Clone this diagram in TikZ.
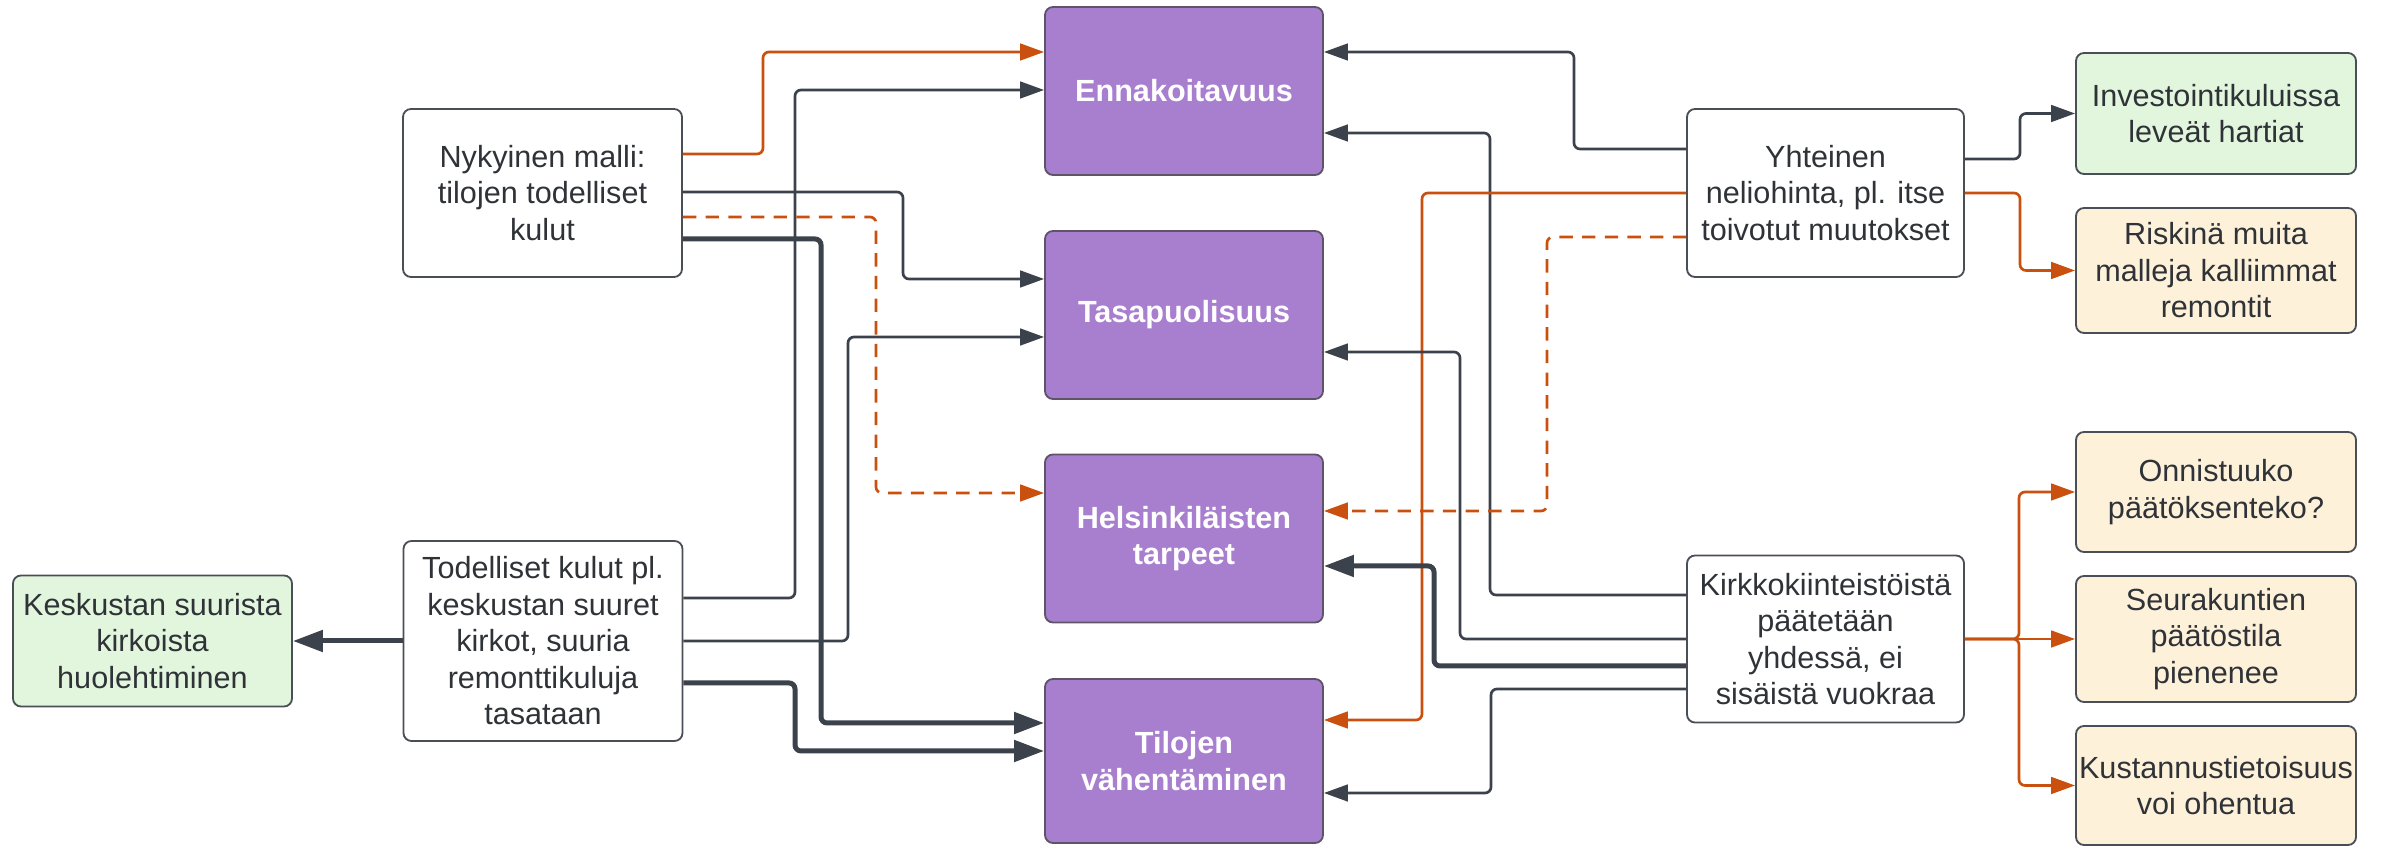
\documentclass[tikz,border=0pt]{standalone}
\usepackage{fontspec}
\setmainfont{Liberation Sans}
\usetikzlibrary{arrows.meta,calc}
\definecolor{dk}{HTML}{3B424B}
\definecolor{orn}{HTML}{C9500F}
\definecolor{pu}{HTML}{A87ECF}
\definecolor{puedge}{HTML}{5E5468}
\definecolor{gr}{HTML}{E2F6DE}
\definecolor{cr}{HTML}{FEF1DA}
\definecolor{txt}{HTML}{2F3338}
\definecolor{edge}{HTML}{4A4F57}
\begin{document}
\begin{tikzpicture}[x=0.3pt,y=-0.3pt,
  box/.style={draw=edge,line width=0.55pt,rounded corners=2.4pt,align=center,inner sep=0pt,
    text=txt,font=\fontsize{9.18pt}{10.95pt}\selectfont},
  wbox/.style={box,fill=white,minimum width=83.7pt,minimum height=50.4pt},
  pbox/.style={box,fill=pu,draw=puedge,text=white,font=\fontsize{9.18pt}{10.95pt}\selectfont\bfseries,
    minimum width=83.4pt,minimum height=50.4pt},
  gbox/.style={box,fill=gr,minimum width=84pt},
  cbox/.style={box,fill=cr,minimum width=84pt},
  da/.style={draw=dk,line width=0.8pt,rounded corners=1.8pt,-{Triangle[length=7.2pt,width=5pt]}},
  dat/.style={draw=dk,line width=1.5pt,rounded corners=1.8pt,-{Triangle[length=9pt,width=6.3pt]}},
  oa/.style={draw=orn,line width=0.8pt,rounded corners=1.8pt,-{Triangle[length=7.2pt,width=5pt]}},
  oad/.style={oa,dash pattern=on 4pt off 2.8pt}]
\useasboundingbox (0,0) rectangle (2381,846);

% left column
\node[wbox] (nyk) at (542.5,193) {Nykyinen malli:\\tilojen todelliset\\kulut};
\node[wbox,minimum height=60pt] (tod) at (543,641) {Todelliset kulut pl.\\keskustan suuret\\kirkot, suuria\\remonttikuluja\\tasataan};
\node[gbox,minimum width=83.7pt,minimum height=39.3pt] (kes) at (152.5,641) {Keskustan suurista\\kirkoista\\huolehtiminen};

% purple column
\node[pbox] (enn) at (1184,91) {Ennakoitavuus};
\node[pbox] (tas) at (1184,315) {Tasapuolisuus};
\node[pbox] (hel) at (1184,538.5) {Helsinkiläisten\\tarpeet};
\node[pbox,minimum height=49.2pt] (til) at (1184,761) {Tilojen\\vähentäminen};

% right-middle column
\node[wbox,minimum width=83.1pt] (yht) at (1825.5,193) {Yhteinen\\neliohinta, pl. itse\\toivotut muutokset};
\node[wbox,minimum width=83.1pt,minimum height=50.1pt] (kir) at (1825.5,639) {Kirkkokiinteistöistä\\päätetään\\yhdessä, ei\\sisäistä vuokraa};

% right column
\node[gbox,minimum height=36.3pt] (inv) at (2216,113.5) {Investointikuluissa\\leveät hartiat};
\node[cbox,minimum height=37.5pt] (ris) at (2216,270.5) {Riskinä muita\\malleja kalliimmat\\remontit};
\node[cbox,minimum height=36pt] (onn) at (2216,492) {Onnistuuko\\päätöksenteko?};
\node[cbox,minimum height=37.8pt] (seu) at (2216,639) {Seurakuntien\\päätöstila\\pienenee};
\node[cbox,minimum height=35.7pt] (kus) at (2216,785.5) {Kustannustietoisuus\\voi ohentua};

% left connectors
\draw[oa] ($(nyk.east)+(0,-39)$) -| (763,52) -- ($(enn.west)+(0,-39)$);
\draw[da] ($(tod.east)+(0,-43)$) -| (795,90) -- ($(enn.west)+(0,-1)$);
\draw[da] ($(nyk.east)+(0,-1)$) -| (903,279) -- ($(tas.west)+(0,-36)$);
\draw[oad] ($(nyk.east)+(0,24)$) -| (876,493) -- ($(hel.west)+(0,-45.5)$);
\draw[dat] ($(nyk.east)+(0,46)$) -| (821,723) -- ($(til.west)+(0,-38)$);
\draw[da] (tod.east) -| (848,337) -- ($(tas.west)+(0,22)$);
\draw[dat] ($(tod.east)+(0,42)$) -| (795,751) -- ($(til.west)+(0,-10)$);
\draw[dat] (tod.west) -- (kes.east);

% right-middle connectors
\draw[da] ($(yht.west)+(0,-44)$) -| (1574,52) -- ($(enn.east)+(0,-39)$);
\draw[da] ($(kir.west)+(0,-44)$) -| (1490,133) -- ($(enn.east)+(0,42)$);
\draw[oa] (yht.west) -| (1422,720) -- ($(til.east)+(0,-41)$);
\draw[oad] ($(yht.west)+(0,44)$) -| (1547,511) -- ($(hel.east)+(0,-27.5)$);
\draw[da] (kir.west) -| (1460,352) -- ($(tas.east)+(0,37)$);
\draw[dat] ($(kir.west)+(0,27)$) -| (1434,566) -- ($(hel.east)+(0,27.5)$);
\draw[da] ($(kir.west)+(0,50)$) -| (1491,793) -- ($(til.east)+(0,32)$);

% right connectors
\draw[da] ($(yht.east)+(0,-34)$) -| (2020,113.5) -- (inv.west);
\draw[oa] (yht.east) -| (2020,270.5) -- (ris.west);
\draw[oa] (kir.east) -| (2019,492) -- (onn.west);
\draw[oa] (kir.east) -- (seu.west);
\draw[oa] (kir.east) -| (2019,785.5) -- (kus.west);
\end{tikzpicture}
\end{document}
